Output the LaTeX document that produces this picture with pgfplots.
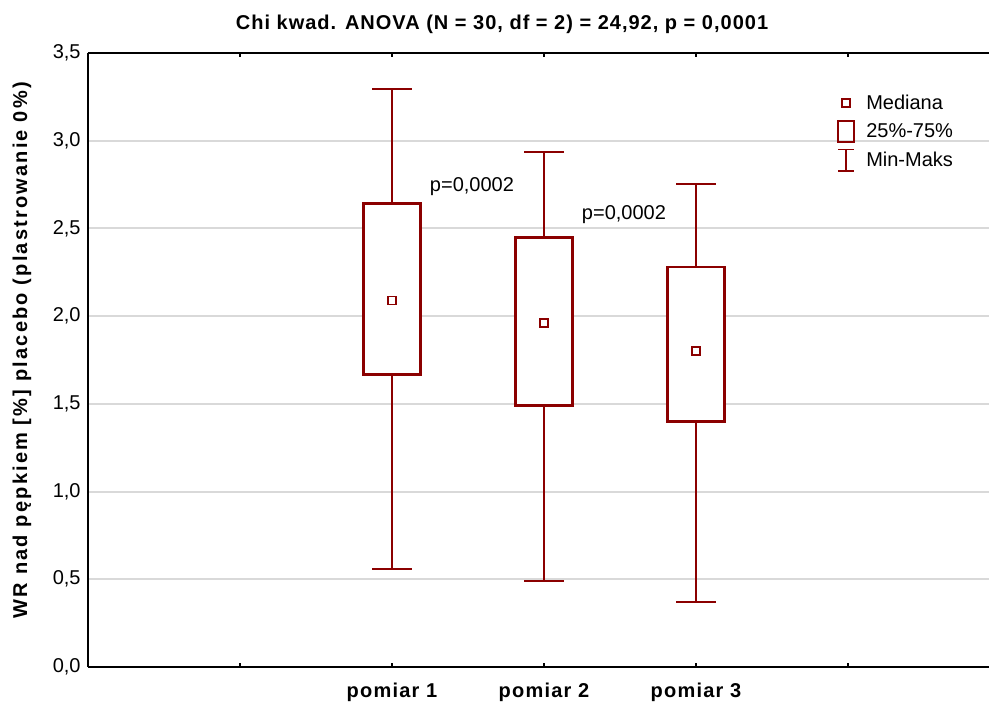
\documentclass[border=0pt]{standalone}
\usepackage{fontspec}
\setmainfont{Liberation Sans}
\usepackage{pgfplots}
\pgfplotsset{compat=1.18}
\usepgfplotslibrary{statistics}
\usetikzlibrary{calc}
\definecolor{boxred}{HTML}{8B0000}
\definecolor{gridgray}{HTML}{D9D9D9}

\begin{document}
\begin{tikzpicture}
\begin{axis}[
  name=ax,
  scale only axis,
  width=684pt, height=460.5pt,
  xmin=0, xmax=6, ymin=0, ymax=3.5,
  axis x line*=box, axis y line*=left,
  axis line style={line width=1.2pt, black},
  xtick={1,2,3,4,5},
  xticklabels={,pomiar 1,pomiar 2,pomiar 3,},
  xticklabel style={font=\fontsize{15}{18}\selectfont\bfseries\addfontfeature{LetterSpace=6}, anchor=base, yshift=-23pt},
  major tick length=3pt,
  xtick style={line width=1pt, black},
  ytick={0,0.5,1,1.5,2,2.5,3,3.5},
  ytick style={draw=none},
  yticklabel style={font=\fontsize{15}{18}\selectfont, xshift=-2pt},
  /pgf/number format/.cd, fixed, fixed zerofill, precision=1, use comma, assume math mode=true,
  /pgfplots/.cd,
  ymajorgrids,
  grid style={gridgray, line width=1.5pt},
  title={Chi kwad. ANOVA (N = 30, df = 2) = 24,92, p = 0,0001},
  title style={font=\fontsize{15}{18}\selectfont\bfseries\addfontfeature{LetterSpace=5}, at={(axis description cs:0.454,1)}, anchor=center, yshift=15.75pt},
  ylabel={WR nad pępkiem [\%] placebo (plastrowanie 0\%)},
  ylabel style={font=\fontsize{15}{18}\selectfont\bfseries\addfontfeature{LetterSpace=11}, at={(axis description cs:-0.0724,0.516)}, anchor=center},
  legend style={at={(axis cs:4.9,3.30)}, anchor=north west, draw=none, fill=none,
    font=\fontsize{15}{18}\selectfont, row sep=3.4pt},
  legend cell align=left,
  boxplot/draw direction=y,
  boxplot/box extend=0.38,
  boxplot/whisker extend=0.26,
  boxplot/every whisker/.style={line width=1.5pt},
  boxplot/draw/median/.code={},
]
% pomiar 1
\addplot[boxred, line width=2.2pt, fill=white, forget plot,
  boxplot prepared={draw position=2, median=2.09, upper quartile=2.64,
  lower quartile=1.665, upper whisker=3.295, lower whisker=0.56}] coordinates {};
% pomiar 2
\addplot[boxred, line width=2.2pt, fill=white, forget plot,
  boxplot prepared={draw position=3, median=1.96, upper quartile=2.446,
  lower quartile=1.488, upper whisker=2.936, lower whisker=0.49}] coordinates {};
% pomiar 3
\addplot[boxred, line width=2.2pt, fill=white, forget plot,
  boxplot prepared={draw position=4, median=1.80, upper quartile=2.28,
  lower quartile=1.397, upper whisker=2.754, lower whisker=0.37}] coordinates {};
% medians
\addplot[only marks, mark=square*, mark size=3pt, boxred, forget plot,
  mark options={fill=white, line width=1.2pt}] coordinates {(2,2.09) (3,1.96) (4,1.80)};

\node[font=\fontsize{15}{18}\selectfont] at (axis cs:2.526,2.737) {p=0,0002};
\node[font=\fontsize{15}{18}\selectfont] at (axis cs:3.526,2.577) {p=0,0002};

\addlegendimage{legend image code/.code={
  \path[draw=none, fill=none] (0,-9pt) rectangle (19pt,9pt);
  \draw[boxred, line width=1.2pt, fill=white] (3pt,-3pt) rectangle (9pt,3pt);}}
\addlegendentry{Mediana}
\addlegendimage{legend image code/.code={
  \path[draw=none, fill=none] (0,-9pt) rectangle (19pt,9pt);
  \draw[boxred, line width=1.8pt, fill=none] (0,-8pt) rectangle (12pt,8pt);}}
\addlegendentry{25\%-75\%}
\addlegendimage{legend image code/.code={
  \path[draw=none, fill=none] (0,-9pt) rectangle (19pt,9pt);
  \draw[boxred, line width=1.3pt] (0,8pt)--(12pt,8pt) (6pt,8pt)--(6pt,-8pt) (0,-8pt)--(12pt,-8pt);}}
\addlegendentry{Min-Maks}
\end{axis}
\pgfresetboundingbox
\path[use as bounding box] ($(ax.south west)+(-66pt,-27.75pt)$) rectangle ($(ax.south west)+(675.75pt,500.25pt)$);
\end{tikzpicture}
\end{document}
